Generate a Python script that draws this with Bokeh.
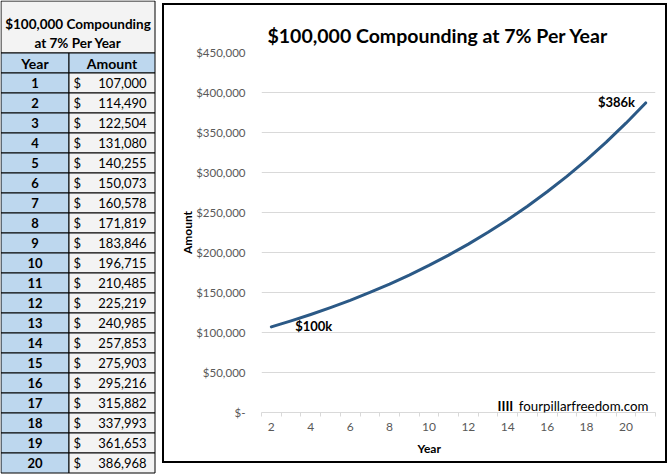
from bokeh.plotting import figure
from bokeh.layouts import row, column
from bokeh.models import (Range1d, FixedTicker, CustomJSTickFormatter, Label,
                          ColumnDataSource, Title)
from bokeh.embed import file_html
from bokeh.resources import INLINE
from bokeh.core.properties import value

# ---------------- data ----------------
years = [1, 2, 3, 4, 5, 6, 7, 8, 9, 10, 11, 12, 13, 14, 15, 16, 17, 18, 19, 20]
amounts = [107000, 114490, 122504, 131080, 140255, 150073, 160578, 171819,
           183846, 196715, 210485, 225219, 240985, 257853, 275903, 295216,
           315882, 337993, 361653, 386968]
# category labels used on the chart's x axis (every other one is shown)
axis_categories = [2, 3, 4, 5, 6, 7, 8, 9, 10, 11, 12, 13, 14, 15, 16, 17, 18, 19, 20, 21]
x_tick_labels = [2, 4, 6, 8, 10, 12, 14, 16, 18, 20]
y_ticks = [0, 50000, 100000, 150000, 200000, 250000, 300000, 350000, 400000, 450000]
chart_title = "$100,000 Compounding at 7% Per Year"
x_title = "Year"
y_title = "Amount"
table_title = ["$100,000 Compounding", "at 7% Per Year"]
table_headers = ["Year", "Amount"]
start_label = "$100k"
end_label = "$386k"
watermark_mark = "IIII"
watermark_text = "fourpillarfreedom.com"

FONT = "Lato"
BLUE = "#bdd7ee"
LIGHT = "#f3f3f3"

# ---------------- table ----------------
TW, H = 162, 474
t = figure(width=TW, height=H, x_range=Range1d(0, TW), y_range=Range1d(H, 0),
           toolbar_location=None, output_backend="svg", min_border=0,
           x_axis_location=None, y_axis_location=None)
t.grid.visible = False
t.outline_line_color = None

c0, c1, c2 = 0.5, 68.5, 154.5
title_bottom = 52.5
row_h = 20
header_top = title_bottom
first_row_top = header_top + row_h

t.quad(left=[c0], right=[c2], top=[0.5], bottom=[title_bottom],
       fill_color=LIGHT, line_color="black", line_width=1)
t.text(x=[(c0 + c2) / 2] * 2, y=[23, 42], text=table_title,
       text_font=value(FONT), text_font_style="bold", text_font_size="13.5px",
       text_align="center", text_baseline="middle", text_color="black")
t.quad(left=[c0, c1], right=[c1, c2], top=[header_top] * 2,
       bottom=[header_top + row_h] * 2, fill_color=BLUE,
       line_color="black", line_width=1)
t.text(x=[(c0 + c1) / 2, (c1 + c2) / 2], y=[header_top + row_h / 2] * 2,
       text=table_headers, text_font=value(FONT), text_font_style="bold",
       text_font_size="14px", text_align="center", text_baseline="middle",
       text_color="black")

tops = [first_row_top + i * row_h for i in range(len(years))]
src = ColumnDataSource(dict(
    top=tops,
    bottom=[v + row_h for v in tops],
    mid=[v + row_h / 2 for v in tops],
    year=[str(y) for y in years],
    dollar=["$"] * len(years),
    amt=[f"{a:,}" for a in amounts],
))
t.quad(left=c0, right=c1, top="top", bottom="bottom", source=src,
       fill_color=BLUE, line_color="black", line_width=1)
t.quad(left=c1, right=c2, top="top", bottom="bottom", source=src,
       fill_color=LIGHT, line_color="black", line_width=1)
t.text(x=(c0 + c1) / 2, y="mid", text="year", source=src,
       text_font=value(FONT), text_font_style="bold", text_font_size="13px",
       text_align="center", text_baseline="middle", text_color="black")
t.text(x=73, y="mid", text="dollar", source=src,
       text_font=value(FONT), text_font_size="13px",
       text_align="left", text_baseline="middle", text_color="black")
t.text(x=146, y="mid", text="amt", source=src,
       text_font=value(FONT), text_font_size="13px",
       text_align="right", text_baseline="middle", text_color="black")

# ---------------- chart ----------------
# canvas placed inside a 2px bordered box whose outer edge is at page (162, 3)
CX, CY = 164, 5
CW, CH = 501, 456
FL, FR, FT, FB = 261, 655, 52, 412  # page coords of plot area
p = figure(width=CW, height=CH, x_range=Range1d(1.5, 21.5),
           y_range=Range1d(0, 450000), toolbar_location=None,
           output_backend="svg",
           min_border_left=FL - CX, min_border_right=CX + CW - FR,
           min_border_top=FT - CY, min_border_bottom=CY + CH - FB)
p.outline_line_color = None
p.xgrid.visible = False
p.ygrid.grid_line_color = "#d9d9d9"
p.ygrid.grid_line_width = 1

p.title = Title(text=chart_title, align="left", offset=6,
                text_font=FONT, text_font_style="bold",
                text_font_size="19.5px", text_color="black", standoff=11)

# y axis
p.yaxis.ticker = FixedTicker(ticks=y_ticks)
p.yaxis.formatter = CustomJSTickFormatter(
    code="return tick == 0 ? '$-' : '$' + tick.toLocaleString('en-US');")
p.yaxis.axis_line_color = None
p.yaxis.major_tick_line_color = None
p.yaxis.minor_tick_line_color = None
p.yaxis.major_tick_out = 0
p.yaxis.major_label_standoff = 16
p.yaxis.major_label_text_font = FONT
p.yaxis.major_label_text_font_size = "11.5px"
p.yaxis.major_label_text_color = "#595959"
p.yaxis.axis_label = y_title
p.yaxis.axis_label_text_font = FONT
p.yaxis.axis_label_text_font_style = "bold"
p.yaxis.axis_label_text_font_size = "12px"
p.yaxis.axis_label_text_color = "black"
p.yaxis.axis_label_standoff = -2

# x axis
minor = [c - 0.5 for c in axis_categories] + [axis_categories[-1] + 0.5]
p.xaxis.ticker = FixedTicker(ticks=x_tick_labels, minor_ticks=minor)
p.xaxis.axis_line_color = "#d9d9d9"
p.xaxis.major_tick_line_color = None
p.xaxis.major_tick_out = 0
p.xaxis.minor_tick_line_color = "#d9d9d9"
p.xaxis.minor_tick_out = 4
p.xaxis.minor_tick_in = 0
p.xaxis.major_label_standoff = 6
p.xaxis.major_label_text_font = FONT
p.xaxis.major_label_text_font_size = "12px"
p.xaxis.major_label_text_color = "#595959"

# x axis title, as a title panel below the axis so it can be offset
p.add_layout(Title(text=x_title, align="left", offset=156,
                   text_font=FONT, text_font_style="bold",
                   text_font_size="12px", text_color="black", standoff=11),
             "below")

# series line
p.line(axis_categories, amounts, line_width=3, line_color="#2b5986",
       line_cap="round", line_join="round")

# data labels
p.add_layout(Label(x=4.15, y=108000, text=start_label, text_font=FONT,
                   text_font_style="bold", text_font_size="13px",
                   text_align="center", text_baseline="middle",
                   text_color="black"))
p.add_layout(Label(x=19.52, y=388000, text=end_label, text_font=FONT,
                   text_font_style="bold", text_font_size="13px",
                   text_align="center", text_baseline="middle",
                   text_color="black"))
# watermark
p.add_layout(Label(x=21.14, y=8750, text=watermark_text, text_font=FONT,
                   text_font_size="13.3px", text_align="right",
                   text_baseline="middle", text_color="black"))
p.add_layout(Label(x=14.28, y=8750, text=watermark_mark, text_font=FONT,
                   text_font_style="bold", text_font_size="13.3px",
                   text_align="right", text_baseline="middle",
                   text_color="black"))

chart_box = column(p, styles={"border": "2px solid black"}, margin=(3, 0, 0, 0))
layout = row(t, chart_box)
open("out.html", "w").write(file_html(layout, INLINE))
